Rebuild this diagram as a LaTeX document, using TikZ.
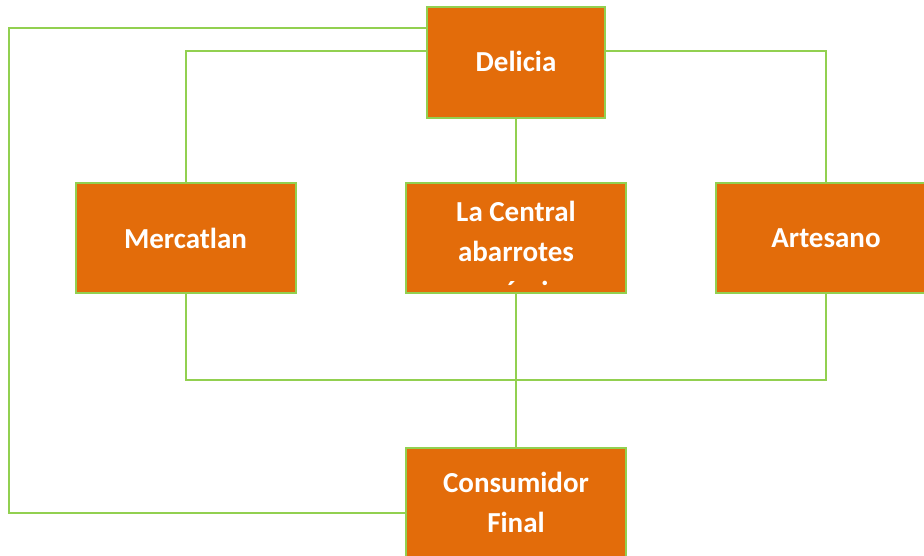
\documentclass[tikz,border=0pt]{standalone}
\usepackage{fontspec}
\setmainfont{Carlito}
\definecolor{boxorange}{HTML}{E36C0A}
\definecolor{linegreen}{HTML}{92D050}
\begin{document}
\begin{tikzpicture}[x=1pt,y=1pt,
  conn/.style={draw=linegreen, line width=2pt},
  orgbox/.style={draw=linegreen, line width=2pt, fill=boxorange, minimum width=220pt, minimum height=110pt, inner sep=0pt, text=white, font=\bfseries\fontsize{29}{40}\selectfont, align=center},
  boxtxt/.style={text=white, font=\bfseries\fontsize{29}{40}\selectfont, align=center, inner sep=0pt}]
\useasboundingbox (0,0) rectangle (924,555);
% coordinates for connectors
\coordinate (o1) at (9,527);
\coordinate (o2) at (9,42);
\coordinate (m1) at (185.5,504);
\coordinate (a1) at (826,504);
\coordinate (b1) at (185.5,175);
\path (516,492.5) coordinate (pdel) (185.5,317) coordinate (pmer) (516,317) coordinate (pcen) (826,317) coordinate (part) (516,52) coordinate (pcon);
\node[orgbox, minimum width=178pt, minimum height=111pt, fill=none, draw=none] (dhelp) at (pdel) {};
% connectors first (below boxes)
\draw[conn] (dhelp.west |- o1) -- (o1) -- (o2) -- (406,42);
\draw[conn] (dhelp.west |- m1) -- (m1) -- (185.5,293);
\draw[conn] (dhelp.east |- a1) -- (a1) -- (826,293);
\draw[conn] (dhelp.south) -- (516,293);
\draw[conn] (185.5,262) -- (b1) -- (826,175) -- (826,262);
\draw[conn] (516,262) -- (516,107);
% boxes
\node[orgbox, minimum width=178pt, minimum height=111pt] (delicia) at (pdel) {\raisebox{2pt}{Delicia}};
\node[orgbox] (mercatlan) at (pmer) {Mercatlan};
\node[orgbox] (central) at (pcen) {};
\node[orgbox] (artesano) at (part) {Artesano};
\node[orgbox] (consumidor) at (pcon) {\raisebox{2pt}{Consumidor}\\\raisebox{2pt}{Final}};
\begin{scope}
\clip ([shift={(1pt,8pt)}]central.south west) rectangle ([shift={(-1pt,-1pt)}]central.north east);
\node[boxtxt, anchor=north] (centraltxt) at (516,354) {La Central\\abarrotes\\económicos};
\end{scope}
\end{tikzpicture}
\end{document}
